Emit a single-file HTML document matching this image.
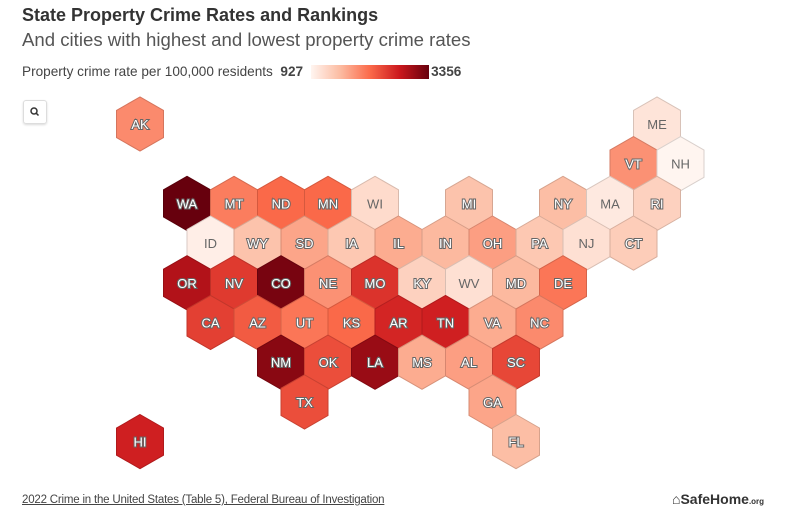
<!DOCTYPE html>
<html><head><meta charset="utf-8"><style>
body{margin:0;width:800px;height:524px;background:#fff;font-family:"Liberation Sans",sans-serif;overflow:hidden;position:relative}
#title{position:absolute;left:22px;top:5px;font-size:18px;font-weight:bold;color:#333}
#sub{position:absolute;left:22px;top:29px;font-size:18.6px;color:#555}
#leg{position:absolute;left:22px;top:64px;font-size:13.6px;color:#444;display:flex;align-items:center}
#bar{width:118px;height:14px;background:linear-gradient(90deg,#fff5f0,#fcbba1,#fb6a4a,#cb181d,#67000d);margin:0 2px 0 8px}
#search{position:absolute;left:23px;top:100px;width:22px;height:22px;border:1px solid #ddd;border-radius:3px;box-shadow:0 1px 2px rgba(0,0,0,.15)}
#foot{position:absolute;left:22px;top:494px;font-size:11.5px;letter-spacing:-0.2px;color:#444;text-decoration:underline}
#logo{position:absolute;left:672px;top:491px;font-size:14px;font-weight:bold;color:#333}
svg{position:absolute;left:0;top:0}
</style></head><body>
<div id="title">State Property Crime Rates and Rankings</div>
<div id="sub">And cities with highest and lowest property crime rates</div>
<div id="leg"><span>Property crime rate per 100,000 residents&nbsp;&nbsp;</span><b>927</b><div id="bar"></div><b>3356</b></div>
<div id="search"><svg width="22" height="22"><circle cx="10" cy="10" r="3" fill="none" stroke="#333" stroke-width="1.5"/><line x1="12.2" y1="12.2" x2="14.5" y2="14.5" stroke="#333" stroke-width="1.5"/></svg></div>
<svg id="map" width="800" height="524" style="pointer-events:none"></svg>
<div id="foot">2022 Crime in the United States (Table 5), Federal Bureau of Investigation</div>
<div id="logo">⌂SafeHome<span style="font-size:8px">.org</span></div>
<script>
const states=["AK","ME","VT","NH","WA","MT","ND","MN","WI","MI","NY","MA","RI","ID","WY","SD","IA","IL","IN","OH","PA","NJ","CT","OR","NV","CO","NE","MO","KY","WV","MD","DE","CA","AZ","UT","KS","AR","TN","VA","NC","NM","OK","LA","MS","AL","SC","TX","GA","HI","FL"];
const rows=[0,0,1,1,2,2,2,2,2,2,2,2,2,3,3,3,3,3,3,3,3,3,3,4,4,4,4,4,4,4,4,4,5,5,5,5,5,5,5,5,6,6,6,6,6,6,7,7,8,8];
const cols=[0,11,10,11,1,2,3,4,5,7,9,10,11,1,2,3,4,5,6,7,8,9,10,1,2,3,4,5,6,7,8,9,1,2,3,4,5,6,7,8,3,4,5,6,7,8,3,7,0,8];
const rates=[1900,1100,1850,927,3356,2000,2150,2150,1200,1450,1500,1050,1300,1000,1450,1700,1400,1650,1550,1750,1400,1150,1350,2900,2500,3250,1850,2550,1300,1150,1550,2050,2450,2250,2050,2150,2650,2700,1650,1900,3150,2350,3050,1650,1750,2400,2350,1700,2700,1500];
const vmin=927,vmax=3356;
const stops=[[255,245,240],[252,187,161],[251,106,74],[203,24,29],[103,0,13]];
function color(v){let t=Math.max(0,Math.min(1,(v-vmin)/(vmax-vmin)))*(stops.length-1);let i=Math.min(stops.length-2,Math.floor(t)),f=t-i;const c=stops[i].map((a,k)=>Math.round(a+(stops[i+1][k]-a)*f));return c;}
const W=47,R=W/Math.sqrt(3),x0=140,y0=124,dy=39.7;
function px(r,c){return x0+c*W+(r%2?W/2:0);}
function py(r){return y0+r*dy;}
const svg=document.getElementById('map'),NS='http://www.w3.org/2000/svg';
states.forEach((s,i)=>{
 const cx=px(rows[i],cols[i]),cy=py(rows[i]);
 const c=color(rates[i]);
 let pts=[];for(let k=0;k<6;k++){const a=Math.PI/3*k-Math.PI/2;pts.push((cx+R*Math.cos(a)).toFixed(1)+','+(cy+R*Math.sin(a)).toFixed(1));}
 const p=document.createElementNS(NS,'polygon');
 
 
 p.setAttribute('points',pts.join(' '));
 p.setAttribute('fill','rgb('+c.join(',')+')');
 p.setAttribute('stroke','rgb('+c.map(v=>Math.round(v*0.85)).join(',')+')');
 p.setAttribute('stroke-width','1');
 svg.appendChild(p);
 const t=document.createElementNS(NS,'text');
 
 
 t.setAttribute('x',cx);t.setAttribute('y',cy+5);
 t.setAttribute('text-anchor','middle');t.setAttribute('font-size','13');
 t.setAttribute('font-family','Liberation Sans, sans-serif');
 const light=(rates[i]-vmin)/(vmax-vmin)<0.12;
 if(light){t.setAttribute('fill','#666');}
 else{t.setAttribute('fill','#fff');t.setAttribute('stroke','#666');t.setAttribute('stroke-width','2');t.setAttribute('paint-order','stroke');}
 t.textContent=s;svg.appendChild(t);
});
</script>
</body></html>
